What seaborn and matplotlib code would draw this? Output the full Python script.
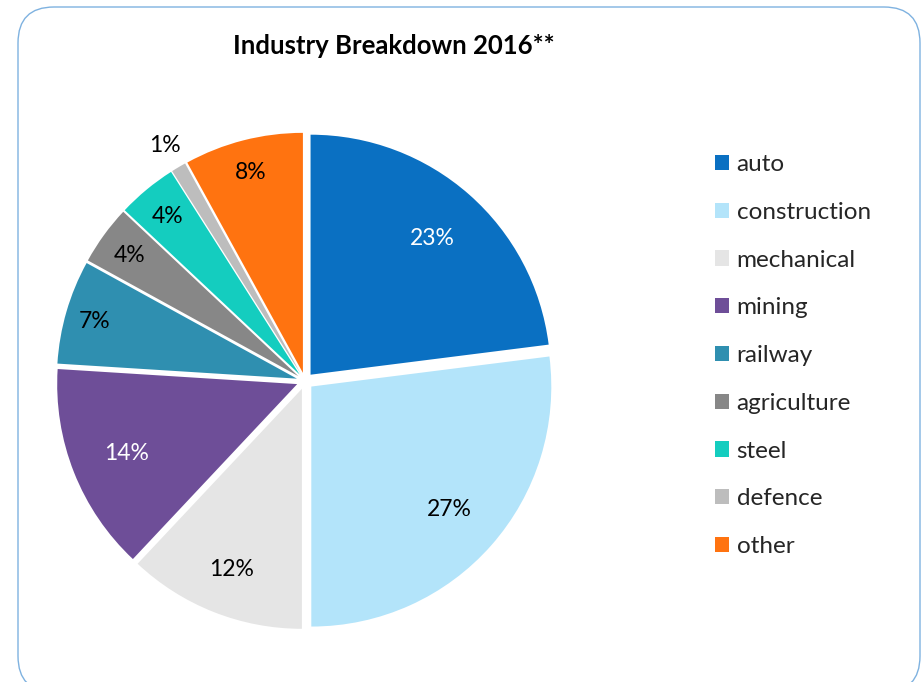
import numpy as np
import matplotlib
matplotlib.use("Agg")
import matplotlib.pyplot as plt
from matplotlib.patches import FancyBboxPatch, Patch
import seaborn as sns

sns.set_theme(style="white")
plt.rcParams['font.family'] = ['Lato', 'DejaVu Sans']

categories = ["auto", "construction", "mechanical", "mining", "railway",
              "agriculture", "steel", "defence", "other"]
values = [23, 27, 12, 14, 7, 4, 4, 1, 8]
pct_labels = ["23%", "27%", "12%", "14%", "7%", "4%", "4%", "1%", "8%"]
colors = ["#0A70C2", "#B3E4FA", "#E5E5E5", "#6E4E98", "#2F8FB0",
          "#878787", "#14CDBF", "#BDBDBD", "#FF7310"]
label_colors = ["white", "black", "black", "white", "black",
                "black", "black", "black", "black"]
label_dist = [0.80, 0.80, 0.835, 0.80, 0.915, 0.905, 0.90, 1.15, 0.905]

W, H = 922, 682
fig = plt.figure(figsize=(W / 100, H / 100), dpi=100)
fig.patch.set_facecolor("white")

# rounded frame
fl, ft, fr, fb = 18, 7, 920, 692
frame = FancyBboxPatch((fl / W, (H - fb) / H), (fr - fl) / W, (fb - ft) / H,
                       boxstyle="round,pad=0,rounding_size=%f" % (36 / W),
                       transform=fig.transFigure, facecolor="none",
                       edgecolor="#7FB2E0", linewidth=1.0, zorder=5,
                       mutation_aspect=W / H)
fig.patches.append(frame)

# pie axes: center (305, 381) px, radius 240 px
cx, cy, R = 305, 381, 240
half = 260
ax = fig.add_axes([(cx - half) / W, (H - cy - half) / H, 2 * half / W, 2 * half / H])
ax.axis("off")

explode = [0.035] * len(values)
wedges, _ = ax.pie(values, colors=colors, startangle=90, counterclock=False,
                   explode=explode, radius=1.0,
                   wedgeprops=dict(linewidth=0))
ax.set_xlim(-half / R, half / R)
ax.set_ylim(-half / R, half / R)
ax.set_aspect("equal")

fs = 16.5
total = float(sum(values))
start = 90.0
for v, lab, col, d in zip(values, pct_labels, label_colors, label_dist):
    ang = np.deg2rad(start - 360.0 * v / total / 2)
    start -= 360.0 * v / total
    ax.annotate(lab, xy=(d * np.cos(ang), d * np.sin(ang)),
                xytext=(0, -0.36 * fs), textcoords="offset points",
                ha="center", va="baseline", fontsize=fs, color=col)

fig.text(394 / W, 1 - 46 / H, "Industry Breakdown 2016**", ha="center",
         va="center", fontsize=18.5, fontweight="bold", color="black")

handles = [Patch(facecolor=c, edgecolor="none") for c in colors]
leg = fig.legend(handles, categories, loc="upper left",
                 bbox_to_anchor=(703 / W, 1 - 142 / H), frameon=False,
                 fontsize=17.5, handlelength=0.58, handleheight=0.58,
                 handletextpad=0.3, labelspacing=1.1, borderpad=0)

fig.savefig("out.png", dpi=100, facecolor="white")
